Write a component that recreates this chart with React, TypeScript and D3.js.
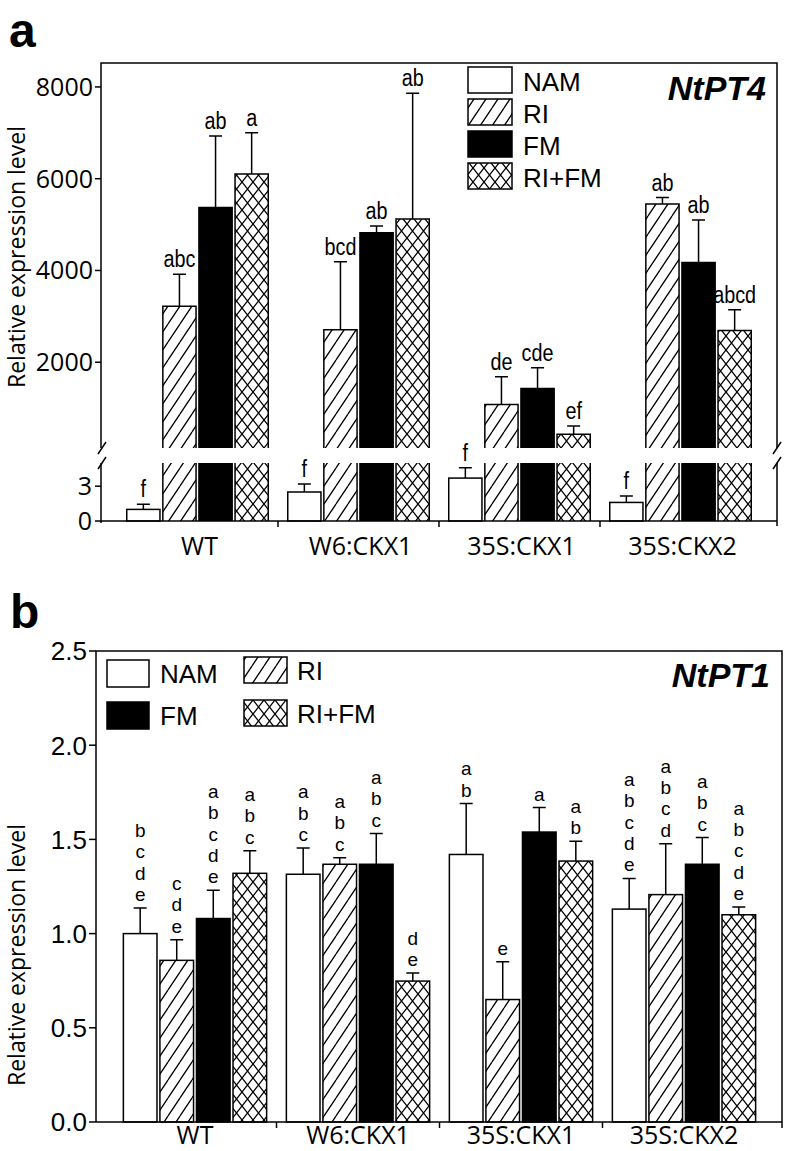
import React from "react";
import * as d3 from "d3";

const categories = ["WT", "W6:CKX1", "35S:CKX1", "35S:CKX2"];
const treatments = ["NAM", "RI", "FM", "RI+FM"];
const fills = ["white", "url(#diag)", "black", "url(#cross)"];

// Panel a (NtPT4): means and SE per treatment, in category order
const aNAM = [1.0, 2.5, 3.7, 1.6];
const aNAMse = [0.45, 0.7, 0.9, 0.55];
const aRI = [3220, 2710, 1080, 5450];
const aRIse = [700, 1480, 605, 140];
const aFM = [5370, 4820, 1430, 4175];
const aFMse = [1560, 150, 450, 925];
const aRIFM = [6100, 5120, 430, 2690];
const aRIFMse = [900, 2740, 180, 455];
const aLetNAM = ["f", "f", "f", "f"];
const aLetRI = ["abc", "bcd", "de", "ab"];
const aLetFM = ["ab", "ab", "cde", "ab"];
const aLetRIFM = ["a", "ab", "ef", "abcd"];
const aTicksUpper = [2000, 4000, 6000, 8000];
const aTicksLower = [0, 3];

// Panel b (NtPT1)
const bNAM = [1.0, 1.315, 1.42, 1.13];
const bNAMse = [0.136, 0.14, 0.27, 0.163];
const bRI = [0.858, 1.368, 0.65, 1.207];
const bRIse = [0.11, 0.035, 0.2, 0.27];
const bFM = [1.08, 1.368, 1.539, 1.368];
const bFMse = [0.15, 0.163, 0.13, 0.142];
const bRIFM = [1.32, 0.748, 1.385, 1.1];
const bRIFMse = [0.12, 0.043, 0.105, 0.041];
const bLetNAM = ["bcde", "abc", "ab", "abcde"];
const bLetRI = ["cde", "abc", "e", "abcd"];
const bLetFM = ["abcde", "abc", "a", "abc"];
const bLetRIFM = ["abc", "de", "ab", "abcde"];
const bTicks = [0, 0.5, 1.0, 1.5, 2.0, 2.5];

const aMeans = [aNAM, aRI, aFM, aRIFM];
const aSE = [aNAMse, aRIse, aFMse, aRIFMse];
const aLet = [aLetNAM, aLetRI, aLetFM, aLetRIFM];
const bMeans = [bNAM, bRI, bFM, bRIFM];
const bSE = [bNAMse, bRIse, bFMse, bRIFMse];
const bLet = [bLetNAM, bLetRI, bLetFM, bLetRIFM];

const SANS = "'Liberation Sans', Arial, Helvetica, sans-serif";
const OPEN = "'Open Sans', 'Liberation Sans', sans-serif";

export default function App() {
  const W = 786, H = 1151;

  // ---------- Panel a ----------
  const aLeft = 101, aRight = 777, aTop = 63, aBottom = 521;
  const brkTop = 448, brkBot = 463;
  const ax = d3.scaleBand<string>().domain(categories).range([117, 761]);
  const aInner = d3.scaleBand<string>().domain(treatments).range([0, ax.bandwidth()]).paddingInner(0.08).paddingOuter(0.27);
  const yU = d3.scaleLinear().domain([0, 8500]).range([454, 64]);
  const yL = d3.scaleLinear().domain([0, 5]).range([aBottom, brkBot]);
  const aw = aInner.bandwidth();

  const aBars: any[] = [];
  treatments.forEach((t, ti) => {
    categories.forEach((c, ci) => {
      const v = aMeans[ti][ci];
      const se = aSE[ti][ci];
      const x0 = (ax(c) as number) + (aInner(t) as number);
      const xc = x0 + aw / 2;
      const key = `a-${ti}-${ci}`;
      let errTop: number, barTop: number;
      if (v <= 5) {
        barTop = yL(v);
        errTop = yL(v + se);
        aBars.push(
          <g key={key}>
            <rect x={x0} y={barTop} width={aw} height={yL(0) - barTop} fill={fills[ti]} stroke="#000" strokeWidth={1.5} />
          </g>
        );
      } else {
        barTop = yU(v);
        errTop = yU(v + se);
        aBars.push(
          <g key={key}>
            <rect x={x0} y={brkBot} width={aw} height={aBottom - brkBot} fill={fills[ti]} />
            <path d={`M${x0},${brkBot}V${aBottom}M${x0 + aw},${brkBot}V${aBottom}`} stroke="#000" strokeWidth={1.5} fill="none" />
            <rect x={x0} y={barTop} width={aw} height={brkTop - barTop} fill={fills[ti]} />
            <path d={`M${x0},${brkTop}V${barTop}H${x0 + aw}V${brkTop}`} stroke="#000" strokeWidth={1.5} fill="none" />
          </g>
        );
      }
      aBars.push(
        <g key={key + "e"}>
          <path d={`M${xc},${barTop}V${errTop}M${xc - 6.5},${errTop}H${xc + 6.5}`} stroke="#000" strokeWidth={1.5} fill="none" />
          <text transform={`translate(${xc},${errTop - 7}) scale(0.86,1)`} textAnchor="middle" fontFamily={SANS} fontSize={23}>{aLet[ti][ci]}</text>
        </g>
      );
    });
  });

  const slash = (x: number, y: number) => `M${x - 4},${y + 6}L${x + 4},${y - 6}`;

  // ---------- Panel b ----------
  const bLeft = 96, bRight = 782, bTop = 651, bBottom = 1122;
  const bx = d3.scaleBand<string>().domain(categories).range([113.5, 765.5]);
  const bInner = d3.scaleBand<string>().domain(treatments).range([0, bx.bandwidth()]).paddingInner(0.08).paddingOuter(0.27);
  const by = d3.scaleLinear().domain([0, 2.5]).range([bBottom, bTop]);
  const bw = bInner.bandwidth();
  const lineStep = 21.3;

  const bBars: any[] = [];
  treatments.forEach((t, ti) => {
    categories.forEach((c, ci) => {
      const v = bMeans[ti][ci];
      const se = bSE[ti][ci];
      const x0 = (bx(c) as number) + (bInner(t) as number);
      const xc = x0 + bw / 2;
      const barTop = by(v);
      const errTop = by(v + se);
      const letters = bLet[ti][ci].split("");
      bBars.push(
        <g key={`b-${ti}-${ci}`}>
          <rect x={x0} y={barTop} width={bw} height={bBottom - barTop} fill={fills[ti]} stroke="#000" strokeWidth={1.5} />
          <path d={`M${xc},${barTop}V${errTop}M${xc - 6.5},${errTop}H${xc + 6.5}`} stroke="#000" strokeWidth={1.5} fill="none" />
          {letters.map((l, li) => (
            <text key={li} transform={`translate(${xc},${errTop - 7 - (letters.length - 1 - li) * lineStep}) scale(1,1)`} textAnchor="middle" fontFamily={SANS} fontSize={19}>{l}</text>
          ))}
        </g>
      );
    });
  });

  const bounds = (scale: d3.ScaleBand<string>) => categories.slice(1).map((c) => scale(c) as number);

  return (
    <svg width={W} height={H} style={{ position: "absolute", left: 0, top: 0, background: "#fff" }}>
      <defs>
        <pattern id="diag" patternUnits="userSpaceOnUse" width={12} height={18}>
          <rect width={12} height={18} fill="#fff" />
          <path d="M0,18L12,0M-6,9L0,0M12,18L18,9" stroke="#000" strokeWidth={1.3} />
        </pattern>
        <pattern id="cross" patternUnits="userSpaceOnUse" width={11} height={14}>
          <rect width={11} height={14} fill="#fff" />
          <path d="M0,0L11,14M11,0L0,14" stroke="#000" strokeWidth={1.3} />
        </pattern>
      </defs>
      <rect width={W} height={H} fill="#fff" />

      {/* ===== Panel a ===== */}
      <text x={9} y={47} fontFamily={SANS} fontWeight="bold" fontSize={48}>a</text>
      {aBars}
      {/* frame */}
      <path d={`M${aLeft},${brkTop}V${aTop}H${aRight}V${brkTop}`} stroke="#000" strokeWidth={1.5} fill="none" />
      <path d={`M${aLeft},${brkBot}V${aBottom + 2}M${aRight},${brkBot}V${aBottom + 5}`} stroke="#000" strokeWidth={1.5} fill="none" />
      <path d={slash(aLeft + 1, brkTop) + slash(aLeft + 1, brkBot) + slash(aRight, brkTop) + slash(aRight, brkBot)} stroke="#000" strokeWidth={1.5} fill="none" />
      <line x1={aLeft} x2={aRight} y1={aBottom} y2={aBottom} stroke="#000" strokeWidth={1.5} />
      {bounds(ax).map((x, i) => (
        <line key={i} x1={x} x2={x} y1={aBottom} y2={aBottom + 6} stroke="#000" strokeWidth={1.5} />
      ))}
      {aTicksUpper.map((t) => (
        <g key={t}>
          <line x1={aLeft - 6} x2={aLeft} y1={yU(t)} y2={yU(t)} stroke="#000" strokeWidth={1.5} />
          <text x={aLeft - 8} y={yU(t)} dy="0.36em" textAnchor="end" fontFamily={OPEN} fontSize={25}>{t}</text>
        </g>
      ))}
      {aTicksLower.map((t) => (
        <g key={t}>
          <line x1={aLeft - 6} x2={aLeft} y1={yL(t)} y2={yL(t)} stroke="#000" strokeWidth={1.5} />
          <text x={aLeft - 9} y={yL(t)} dy="0.36em" textAnchor="end" fontFamily={OPEN} fontSize={25}>{t}</text>
        </g>
      ))}
      {categories.map((c) => (
        <text key={c} x={(ax(c) as number) + ax.bandwidth() / 2 + 2} y={555} textAnchor="middle" fontFamily={OPEN} fontSize={25}>{c}</text>
      ))}
      <text transform={`translate(25,257) rotate(-90)`} textAnchor="middle" fontFamily={OPEN} fontSize={23}>Relative expression level</text>
      {/* legend a */}
      {treatments.map((t, i) => (
        <g key={t}>
          <rect x={468} y={67 + i * 32} width={44} height={26} fill={fills[i]} stroke="#000" strokeWidth={1.5} />
          <text x={523} y={91 + i * 32} fontFamily={SANS} fontSize={26}>{t}</text>
        </g>
      ))}
      <text x={766} y={100} textAnchor="end" fontFamily={SANS} fontWeight="bold" fontStyle="italic" fontSize={34}>NtPT4</text>

      {/* ===== Panel b ===== */}
      <text x={10} y={628} fontFamily={SANS} fontWeight="bold" fontSize={48}>b</text>
      {bBars}
      <path d={`M${bLeft},${bBottom}V${bTop}H${bRight}V${bBottom}`} stroke="#000" strokeWidth={1.5} fill="none" />
      <line x1={bLeft} x2={bRight} y1={bBottom} y2={bBottom} stroke="#000" strokeWidth={1.5} />
      {[...bounds(bx), bRight].map((x, i) => (
        <line key={i} x1={x} x2={x} y1={bBottom} y2={bBottom + 6} stroke="#000" strokeWidth={1.5} />
      ))}
      {bTicks.map((t) => (
        <g key={t}>
          <line x1={bLeft - 7} x2={bLeft} y1={by(t)} y2={by(t)} stroke="#000" strokeWidth={1.5} />
          <text x={bLeft - 9} y={by(t)} dy="0.36em" textAnchor="end" fontFamily={SANS} fontSize={26}>{t.toFixed(1)}</text>
        </g>
      ))}
      {categories.map((c) => (
        <text key={c} x={(bx(c) as number) + bx.bandwidth() / 2} y={1144} textAnchor="middle" fontFamily={OPEN} fontSize={25}>{c}</text>
      ))}
      <text transform={`translate(25,955) rotate(-90)`} textAnchor="middle" fontFamily={OPEN} fontSize={23}>Relative expression level</text>
      {/* legend b */}
      {[0, 2].map((i, r) => (
        <g key={treatments[i]}>
          <rect x={107} y={660 + r * 42} width={42} height={27} fill={fills[i]} stroke="#000" strokeWidth={1.5} />
          <text x={160} y={683 + r * 42} fontFamily={SANS} fontSize={26}>{treatments[i]}</text>
        </g>
      ))}
      {[1, 3].map((i, r) => (
        <g key={treatments[i]}>
          <rect x={244} y={657 + r * 43} width={43} height={26} fill={fills[i]} stroke="#000" strokeWidth={1.5} />
          <text x={297} y={680 + r * 43} fontFamily={SANS} fontSize={26}>{treatments[i]}</text>
        </g>
      ))}
      <text x={770} y={687} textAnchor="end" fontFamily={SANS} fontWeight="bold" fontStyle="italic" fontSize={34}>NtPT1</text>
    </svg>
  );
}
